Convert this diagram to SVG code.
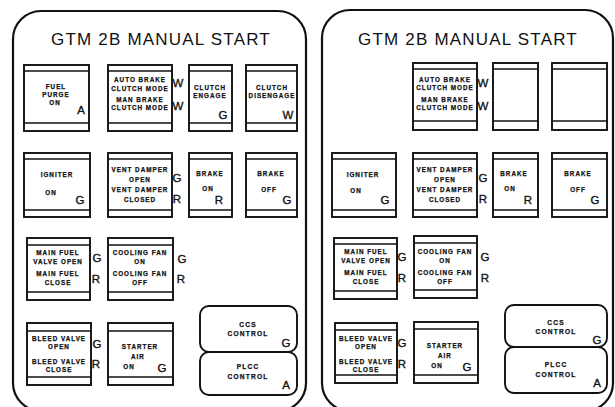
<svg xmlns="http://www.w3.org/2000/svg" width="615" height="407" viewBox="0 0 615 407">
<style>
.panel{fill:none;stroke:#111;stroke-width:2.2}
.box{fill:none;stroke:#111;stroke-width:1.9}
.strip{stroke:#111;stroke-width:1.6}
.title{font-family:"Liberation Sans",Arial,sans-serif;font-size:17px;letter-spacing:1.2px;text-anchor:middle;fill:#111}
.t{font-family:"Liberation Sans",Arial,sans-serif;font-size:6.3px;font-weight:bold;letter-spacing:1px;text-anchor:middle;fill:#111;stroke:#111;stroke-width:0.25}
.tc{font-family:"Liberation Sans",Arial,sans-serif;font-size:6.6px;font-weight:bold;letter-spacing:1.2px;text-anchor:middle;fill:#111;stroke:#111;stroke-width:0.25}
.ind{font-family:"Liberation Sans",Arial,sans-serif;font-size:11.5px;text-anchor:middle;fill:#111;stroke:#111;stroke-width:0.35}
</style>
<rect width="615" height="407" fill="#fff"/>

<!-- LEFT PANEL -->
<g id="left-panel">
<rect class="panel" x="13" y="11" width="293" height="400" rx="28"/>
<text class="title" x="161" y="45">GTM 2B MANUAL START</text>
</g>

<g id="L-fuel-purge">
<rect class="box" x="24" y="65" width="65" height="66"/>
<line class="strip" x1="24" y1="71" x2="89" y2="71"/><line class="strip" x1="24" y1="123" x2="89" y2="123"/>
<text class="t" x="56" y="89">FUEL</text><text class="t" x="56" y="97">PURGE</text><text class="t" x="55" y="105">ON</text>
<text class="ind" x="81" y="114">A</text>
</g>
<g id="L-auto-brake">
<rect class="box" x="108" y="65" width="64" height="66"/>
<line class="strip" x1="108" y1="71" x2="172" y2="71"/><line class="strip" x1="108" y1="123" x2="172" y2="123"/>
<text class="t" x="140" y="82">AUTO BRAKE</text><text class="t" x="140" y="91">CLUTCH MODE</text>
<text class="t" x="140" y="102">MAN BRAKE</text><text class="t" x="140" y="110">CLUTCH MODE</text>
<text class="ind" x="178" y="87">W</text><text class="ind" x="178" y="110">W</text>
</g>
<g id="L-clutch-engage">
<rect class="box" x="189" y="65" width="43" height="66"/>
<line class="strip" x1="189" y1="71" x2="232" y2="71"/><line class="strip" x1="189" y1="123" x2="232" y2="123"/>
<text class="t" x="210" y="90">CLUTCH</text><text class="t" x="210" y="98">ENGAGE</text>
<text class="ind" x="223" y="119">G</text>
</g>
<g id="L-clutch-disengage">
<rect class="box" x="246" y="65" width="51" height="66"/>
<line class="strip" x1="246" y1="71" x2="297" y2="71"/><line class="strip" x1="246" y1="123" x2="297" y2="123"/>
<text class="t" x="272" y="90">CLUTCH</text><text class="t" x="272" y="98" letter-spacing="0.4">DISENGAGE</text>
<text class="ind" x="288" y="119">W</text>
</g>

<g id="L-igniter">
<rect class="box" x="24" y="153" width="66" height="64"/>
<line class="strip" x1="24" y1="159" x2="90" y2="159"/><line class="strip" x1="24" y1="210" x2="90" y2="210"/>
<text class="t" x="57" y="177">IGNITER</text><text class="t" x="51" y="195">ON</text>
<text class="ind" x="80" y="204">G</text>
</g>
<g id="L-vent-damper">
<rect class="box" x="108" y="153" width="64" height="64"/>
<line class="strip" x1="108" y1="159" x2="172" y2="159"/><line class="strip" x1="108" y1="210" x2="172" y2="210"/>
<text class="t" x="140" y="172">VENT DAMPER</text><text class="t" x="140" y="182">OPEN</text>
<text class="t" x="140" y="192">VENT DAMPER</text><text class="t" x="140" y="202">CLOSED</text>
<text class="ind" x="177" y="182">G</text><text class="ind" x="177" y="203">R</text>
</g>
<g id="L-brake-on">
<rect class="box" x="189" y="153" width="43" height="64"/>
<line class="strip" x1="189" y1="159" x2="232" y2="159"/><line class="strip" x1="189" y1="210" x2="232" y2="210"/>
<text class="t" x="210" y="176">BRAKE</text><text class="t" x="208" y="191">ON</text>
<text class="ind" x="219" y="204">R</text>
</g>
<g id="L-brake-off">
<rect class="box" x="246" y="153" width="51" height="64"/>
<line class="strip" x1="246" y1="159" x2="297" y2="159"/><line class="strip" x1="246" y1="210" x2="297" y2="210"/>
<text class="t" x="271" y="176">BRAKE</text><text class="t" x="269" y="192">OFF</text>
<text class="ind" x="287" y="204">G</text>
</g>

<g id="L-main-fuel">
<rect class="box" x="27" y="238" width="63" height="62"/>
<line class="strip" x1="27" y1="245" x2="90" y2="245"/><line class="strip" x1="27" y1="292" x2="90" y2="292"/>
<text class="t" x="58" y="255">MAIN FUEL</text><text class="t" x="58" y="264">VALVE OPEN</text>
<text class="t" x="58" y="276">MAIN FUEL</text><text class="t" x="58" y="285">CLOSE</text>
<text class="ind" x="97" y="262">G</text><text class="ind" x="96" y="283">R</text>
</g>
<g id="L-cooling-fan">
<rect class="box" x="108" y="238" width="65" height="62"/>
<line class="strip" x1="108" y1="245" x2="173" y2="245"/><line class="strip" x1="108" y1="292" x2="173" y2="292"/>
<text class="t" x="140" y="255">COOLING FAN</text><text class="t" x="140" y="264">ON</text>
<text class="t" x="140" y="276">COOLING FAN</text><text class="t" x="140" y="285">OFF</text>
<text class="ind" x="182" y="263">G</text><text class="ind" x="181" y="283">R</text>
</g>

<g id="L-bleed-valve">
<rect class="box" x="27" y="323" width="64" height="62"/>
<line class="strip" x1="27" y1="331" x2="91" y2="331"/><line class="strip" x1="27" y1="377" x2="91" y2="377"/>
<text class="t" x="59" y="341">BLEED VALVE</text><text class="t" x="59" y="349">OPEN</text>
<text class="t" x="59" y="364">BLEED VALVE</text><text class="t" x="59" y="372">CLOSE</text>
<text class="ind" x="97" y="348">G</text><text class="ind" x="96" y="368">R</text>
</g>
<g id="L-starter-air">
<rect class="box" x="108" y="323" width="65" height="62"/>
<line class="strip" x1="108" y1="331" x2="173" y2="331"/><line class="strip" x1="108" y1="377" x2="173" y2="377"/>
<text class="t" x="140" y="349">STARTER</text><text class="t" x="138" y="359">AIR</text><text class="t" x="129" y="369">ON</text>
<text class="ind" x="162" y="372">G</text>
</g>
<g id="L-ccs-control">
<rect class="box" x="200" y="306" width="97" height="46" rx="9"/>
<text class="tc" x="248" y="327">CCS</text><text class="tc" x="248" y="336">CONTROL</text>
<text class="ind" x="286" y="347">G</text>
</g>
<g id="L-plcc-control">
<rect class="box" x="200" y="352" width="97" height="43" rx="9"/>
<text class="tc" x="248" y="369">PLCC</text><text class="tc" x="248" y="379">CONTROL</text>
<text class="ind" x="286" y="389">A</text>
</g>

<!-- RIGHT PANEL -->
<g id="right-panel">
<rect class="panel" x="322" y="10" width="291" height="401" rx="28"/>
<text class="title" x="468" y="45">GTM 2B MANUAL START</text>
</g>

<g id="R-auto-brake">
<rect class="box" x="413" y="63" width="64" height="67"/>
<line class="strip" x1="413" y1="69" x2="477" y2="69"/><line class="strip" x1="413" y1="121" x2="477" y2="121"/>
<text class="t" x="445" y="82">AUTO BRAKE</text><text class="t" x="445" y="90">CLUTCH MODE</text>
<text class="t" x="445" y="102">MAN BRAKE</text><text class="t" x="445" y="110">CLUTCH MODE</text>
<text class="ind" x="483" y="87">W</text><text class="ind" x="483" y="110">W</text>
</g>
<g id="R-blank-1">
<rect class="box" x="493" y="63" width="45" height="67"/>
<line class="strip" x1="493" y1="69" x2="538" y2="69"/><line class="strip" x1="493" y1="121" x2="538" y2="121"/>
</g>
<g id="R-blank-2">
<rect class="box" x="552" y="63" width="55" height="67"/>
<line class="strip" x1="552" y1="69" x2="607" y2="69"/><line class="strip" x1="552" y1="121" x2="607" y2="121"/>
</g>

<g id="R-igniter">
<rect class="box" x="332" y="153" width="64" height="64"/>
<line class="strip" x1="332" y1="159" x2="396" y2="159"/><line class="strip" x1="332" y1="210" x2="396" y2="210"/>
<text class="t" x="363" y="177">IGNITER</text><text class="t" x="356" y="193">ON</text>
<text class="ind" x="385" y="204">G</text>
</g>
<g id="R-vent-damper">
<rect class="box" x="413" y="153" width="64" height="64"/>
<line class="strip" x1="413" y1="159" x2="477" y2="159"/><line class="strip" x1="413" y1="210" x2="477" y2="210"/>
<text class="t" x="445" y="172">VENT DAMPER</text><text class="t" x="445" y="182">OPEN</text>
<text class="t" x="445" y="192">VENT DAMPER</text><text class="t" x="445" y="202">CLOSED</text>
<text class="ind" x="483" y="182">G</text><text class="ind" x="483" y="203">R</text>
</g>
<g id="R-brake-on">
<rect class="box" x="493" y="153" width="45" height="64"/>
<line class="strip" x1="493" y1="159" x2="538" y2="159"/><line class="strip" x1="493" y1="210" x2="538" y2="210"/>
<text class="t" x="514" y="176">BRAKE</text><text class="t" x="510" y="191">ON</text>
<text class="ind" x="528" y="204">R</text>
</g>
<g id="R-brake-off">
<rect class="box" x="552" y="153" width="55" height="64"/>
<line class="strip" x1="552" y1="159" x2="607" y2="159"/><line class="strip" x1="552" y1="210" x2="607" y2="210"/>
<text class="t" x="578" y="176">BRAKE</text><text class="t" x="578" y="192">OFF</text>
<text class="ind" x="595" y="204">G</text>
</g>

<g id="R-main-fuel">
<rect class="box" x="334" y="238" width="63" height="61"/>
<line class="strip" x1="334" y1="244" x2="397" y2="244"/><line class="strip" x1="334" y1="291" x2="397" y2="291"/>
<text class="t" x="366" y="254">MAIN FUEL</text><text class="t" x="366" y="263">VALVE OPEN</text>
<text class="t" x="366" y="275">MAIN FUEL</text><text class="t" x="366" y="284">CLOSE</text>
<text class="ind" x="402" y="261">G</text><text class="ind" x="402" y="282">R</text>
</g>
<g id="R-cooling-fan">
<rect class="box" x="414" y="236" width="63" height="62"/>
<line class="strip" x1="414" y1="243" x2="477" y2="243"/><line class="strip" x1="414" y1="290" x2="477" y2="290"/>
<text class="t" x="445" y="254">COOLING FAN</text><text class="t" x="445" y="263">ON</text>
<text class="t" x="445" y="275">COOLING FAN</text><text class="t" x="445" y="284">OFF</text>
<text class="ind" x="485" y="261">G</text><text class="ind" x="485" y="282">R</text>
</g>

<g id="R-bleed-valve">
<rect class="box" x="335" y="323" width="62" height="60"/>
<line class="strip" x1="335" y1="330" x2="397" y2="330"/><line class="strip" x1="335" y1="375" x2="397" y2="375"/>
<text class="t" x="366" y="341">BLEED VALVE</text><text class="t" x="366" y="349">OPEN</text>
<text class="t" x="366" y="364">BLEED VALVE</text><text class="t" x="366" y="372">CLOSE</text>
<text class="ind" x="402" y="347">G</text><text class="ind" x="402" y="368">R</text>
</g>
<g id="R-starter-air">
<rect class="box" x="414" y="322" width="64" height="61"/>
<line class="strip" x1="414" y1="329" x2="478" y2="329"/><line class="strip" x1="414" y1="375" x2="478" y2="375"/>
<text class="t" x="445" y="348">STARTER</text><text class="t" x="445" y="358">AIR</text><text class="t" x="437" y="368">ON</text>
<text class="ind" x="467" y="371">G</text>
</g>
<g id="R-ccs-control">
<rect class="box" x="505" y="305" width="102" height="42" rx="9"/>
<text class="tc" x="556" y="325">CCS</text><text class="tc" x="556" y="334">CONTROL</text>
<text class="ind" x="597" y="344">G</text>
</g>
<g id="R-plcc-control">
<rect class="box" x="505" y="347" width="102" height="46" rx="9"/>
<text class="tc" x="556" y="367">PLCC</text><text class="tc" x="556" y="377">CONTROL</text>
<text class="ind" x="597" y="387">A</text>
</g>

<g id="connectors"></g>
</svg>
